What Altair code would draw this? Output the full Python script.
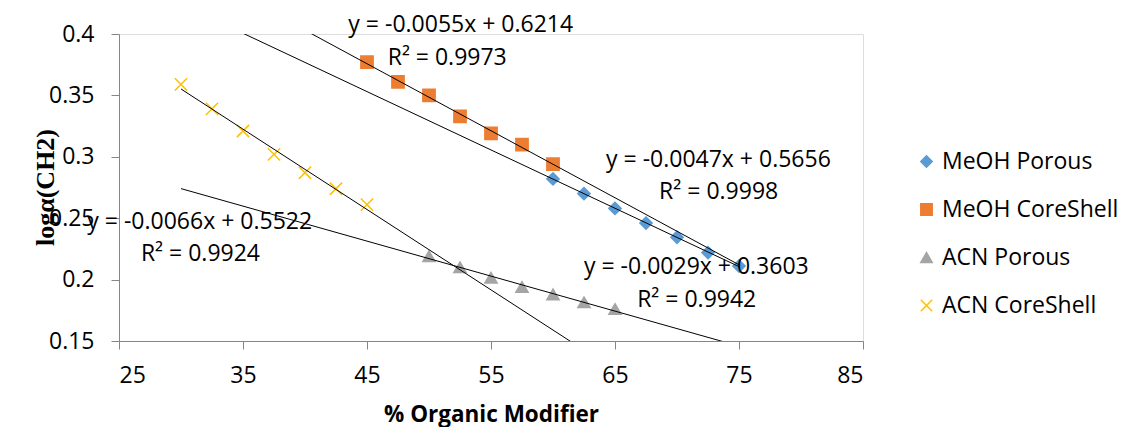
import altair as alt
import pandas as pd

series_names = ["MeOH Porous", "MeOH CoreShell", "ACN Porous", "ACN CoreShell"]
series_colors = ["#5B9BD5", "#ED7D31", "#A5A5A5", "#FFC000"]
series_shapes = ["diamond", "square", "triangle-up", "M-1,-1L1,1M-1,1L1,-1"]

x_meoh_porous = [60, 62.5, 65, 67.5, 70, 72.5, 75]
y_meoh_porous = [0.282, 0.270, 0.258, 0.246, 0.2345, 0.222, 0.211]
x_meoh_core = [45, 47.5, 50, 52.5, 55, 57.5, 60]
y_meoh_core = [0.377, 0.361, 0.350, 0.333, 0.319, 0.310, 0.294]
x_acn_porous = [50, 52.5, 55, 57.5, 60, 62.5, 65]
y_acn_porous = [0.219, 0.210, 0.2015, 0.194, 0.188, 0.1815, 0.176]
x_acn_core = [30, 32.5, 35, 37.5, 40, 42.5, 45]
y_acn_core = [0.359, 0.339, 0.321, 0.302, 0.287, 0.274, 0.261]

# x-extent over which each linear trendline is drawn (forecast range)
trend_x_from = [35, 40, 30, 30]
trend_x_to = [75, 75, 80, 65]

# trendline labels
label_texts = ["y = -0.0055x + 0.6214", "R² = 0.9973",
               "y = -0.0047x + 0.5656", "R² = 0.9998",
               "y = -0.0029x + 0.3603", "R² = 0.9942",
               "y = -0.0066x + 0.5522", "R² = 0.9924"]
label_x = [52.56, 51.47, 73.34, 73.36, 71.56, 71.59, 31.51, 31.57]
label_y = [0.4071, 0.3802, 0.2976, 0.2712, 0.2100, 0.1835, 0.2467, 0.2210]

rows = []
for name, xs, ys in zip(series_names,
                        [x_meoh_porous, x_meoh_core, x_acn_porous, x_acn_core],
                        [y_meoh_porous, y_meoh_core, y_acn_porous, y_acn_core]):
    for xv, yv in zip(xs, ys):
        rows.append({"series": name, "x": xv, "y": yv})
pts = pd.DataFrame(rows)

labels = pd.DataFrame({"x": label_x, "y": label_y, "text": label_texts})

xscale = alt.Scale(domain=[25, 85], nice=False, zero=False)
yscale = alt.Scale(domain=[0.15, 0.4], nice=False, zero=False)
cscale = alt.Scale(domain=series_names, range=series_colors)
sscale = alt.Scale(domain=series_names, range=series_shapes)

FS = 23

leg = alt.Legend(title=None, orient="none", legendX=796, legendY=116,
                 labelFont="Open Sans", labelFontSize=FS, labelColor="#000000",
                 labelLimit=400,
                 symbolSize=130, symbolStrokeWidth=1.5, rowPadding=24,
                 labelOffset=4, padding=0)

xaxis = alt.Axis(values=[25, 35, 45, 55, 65, 75, 85], title="% Organic Modifier",
                 titleFont="Open Sans", titleFontSize=22.5, titleFontWeight="bold",
                 titleColor="#000000", titleX=372, titleY=73, titleBaseline="middle",
                 labelFont="Open Sans", labelFontSize=FS, labelColor="#000000",
                 labelPadding=15, tickSize=8, grid=False,
                 domainColor="#868686", tickColor="#868686")
yaxis = alt.Axis(values=[0.15, 0.2, 0.25, 0.3, 0.35, 0.4], format=".2~f",
                 title="logα(CH2)", titleFont="Liberation Serif", titleFontSize=26,
                 titleFontWeight="bold", titleColor="#000000",
                 titleX=-74, titleY=153, titleBaseline="middle", titleAlign="center",
                 labelFont="Open Sans", labelFontSize=FS, labelColor="#000000",
                 labelPadding=17, tickSize=8, grid=False,
                 domainColor="#868686", tickColor="#868686")

points = alt.Chart(pts).mark_point(filled=True, size=150, strokeWidth=1.5, opacity=1).encode(
    x=alt.X("x:Q", scale=xscale, axis=xaxis),
    y=alt.Y("y:Q", scale=yscale, axis=yaxis),
    color=alt.Color("series:N", scale=cscale, legend=leg, sort=series_names),
    stroke=alt.Stroke("series:N", scale=cscale, legend=leg, sort=series_names),
    shape=alt.Shape("series:N", scale=sscale, legend=leg, sort=series_names),
)

trend_layers = []
for name, x0, x1 in zip(series_names, trend_x_from, trend_x_to):
    trend_layers.append(
        alt.Chart(pts)
        .transform_filter(alt.datum.series == name)
        .transform_regression("x", "y", method="linear", extent=[x0, x1])
        .mark_line(color="black", strokeWidth=1, clip=True)
        .encode(x=alt.X("x:Q", scale=xscale), y=alt.Y("y:Q", scale=yscale))
    )

texts = alt.Chart(labels).mark_text(font="Open Sans", fontSize=FS, color="#000000").encode(
    x=alt.X("x:Q", scale=xscale),
    y=alt.Y("y:Q", scale=yscale),
    text="text:N",
)

chart = alt.layer(points, *trend_layers, texts).properties(
    width=744, height=307,
    autosize=alt.AutoSizeParams(type="none"),
    padding={"left": 119, "top": 34, "right": 258, "bottom": 86},
).configure_view(stroke=None).configure(background="white")

chart.save("out.html", embed_options={"renderer": "svg", "actions": False})
